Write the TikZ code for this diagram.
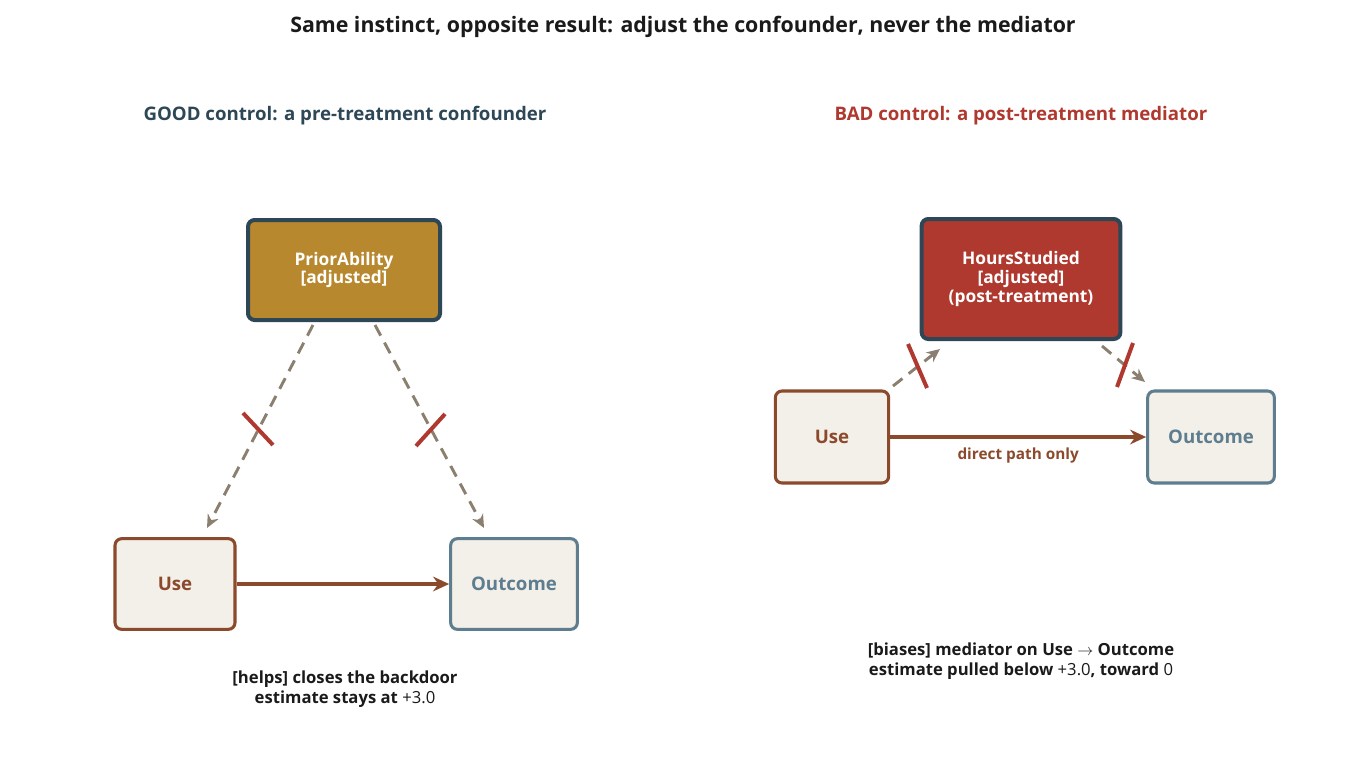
\documentclass[tikz,border=0pt]{standalone}
\usepackage{fontspec}
\setmainfont{Open Sans}
\usetikzlibrary{arrows.meta}
\definecolor{dk}{HTML}{2E4756}
\definecolor{gold}{HTML}{B8882E}
\definecolor{rd}{HTML}{B0392F}
\definecolor{br}{HTML}{8B4A2B}
\definecolor{bl}{HTML}{5E7D8E}
\definecolor{cr}{HTML}{F3EFE9}
\definecolor{gr}{HTML}{8B8070}
\definecolor{tx}{HTML}{1A1A1A}
\begin{document}
\begin{tikzpicture}[x=0.75pt,y=-0.75pt,
 box/.style={draw,rounded corners=5pt,line width=2.3pt,fill=cr,font=\bfseries\fontsize{14}{16}\selectfont,align=center},
 top/.style={draw=dk,rounded corners=5pt,line width=3pt,text=white,font=\bfseries\fontsize{13}{14}\selectfont,align=center},
 dsh/.style={gr,line width=2.2pt,dash pattern=on 9pt off 6pt,-{Stealth[length=10pt,width=9pt]}},
 main/.style={br,line width=3pt,-{Stealth[length=12pt,width=11pt]}},
 tick/.style={rd,line width=3pt},
 note/.style={tx,font=\bfseries\fontsize{12.5}{15}\selectfont,align=center}]
\useasboundingbox (0,0) rectangle (1366,760);
\node[tx,font=\bfseries\fontsize{16}{18}\selectfont] (title) at (683,27) {Same instinct, opposite result: adjust the confounder, never the mediator};
\node[dk,font=\bfseries\fontsize{14}{16}\selectfont] (lt) at (345,116) {GOOD control: a pre-treatment confounder};
\node[rd,font=\bfseries\fontsize{14}{16}\selectfont] (rt) at (1021,116) {BAD control: a post-treatment mediator};
% left
\node[top,fill=gold,minimum width=144pt,minimum height=75pt] (pa) at (344,270) {PriorAbility\\{}[adjusted]};
\node[box,draw=br,text=br,minimum width=90pt,minimum height=68pt] (u1) at (175,584) {Use};
\node[box,draw=bl,text=bl,minimum width=95pt,minimum height=68pt] (o1) at (514,584) {Outcome};
\coordinate (a1) at (313,325); \coordinate (a2) at (207,528);
\coordinate (b1) at (375,325); \coordinate (b2) at (484,528);
\draw[dsh] (a1) -- (a2);
\draw[dsh] (b1) -- (b2);
\draw[main] (u1.east) -- (o1.west);
\coordinate (t1) at (243,413); \coordinate (t2) at (273,445);
\coordinate (t3) at (416,446); \coordinate (t4) at (445,414);
\draw[tick] (t1) -- (t2); \draw[tick] (t3) -- (t4);
\node[note] (n1) at (345,689) {[helps] closes the backdoor\\estimate stays at {\mdseries +3.0}};
% right
\node[top,fill=rd,minimum width=149pt,minimum height=90pt] (hs) at (1021,279) {HoursStudied\\{}[adjusted]\\(post-treatment)};
\node[box,draw=br,text=br,minimum width=85pt,minimum height=69pt] (u2) at (832,437) {Use};
\node[box,draw=bl,text=bl,minimum width=95pt,minimum height=69pt] (o2) at (1211,437) {Outcome};
\coordinate (c1) at (893,386); \coordinate (c2) at (940,349);
\coordinate (d1) at (1102,346); \coordinate (d2) at (1145,382);
\draw[dsh] (c1) -- (c2);
\draw[dsh] (d1) -- (d2);
\draw[main] (u2.east) -- (o2.west) node[midway,below=3pt,br,font=\bfseries\fontsize{11.5}{13}\selectfont] (dp) {direct path only};
\coordinate (s1) at (908,344); \coordinate (s2) at (927,388);
\coordinate (s3) at (1133,343); \coordinate (s4) at (1117,387);
\draw[tick] (s1) -- (s2); \draw[tick] (s3) -- (s4);
\node[note] (n2) at (1021,661) {[biases] mediator on Use $\rightarrow$ Outcome\\estimate pulled below {\mdseries +3.0}, toward {\mdseries 0}};
\end{tikzpicture}
\end{document}
